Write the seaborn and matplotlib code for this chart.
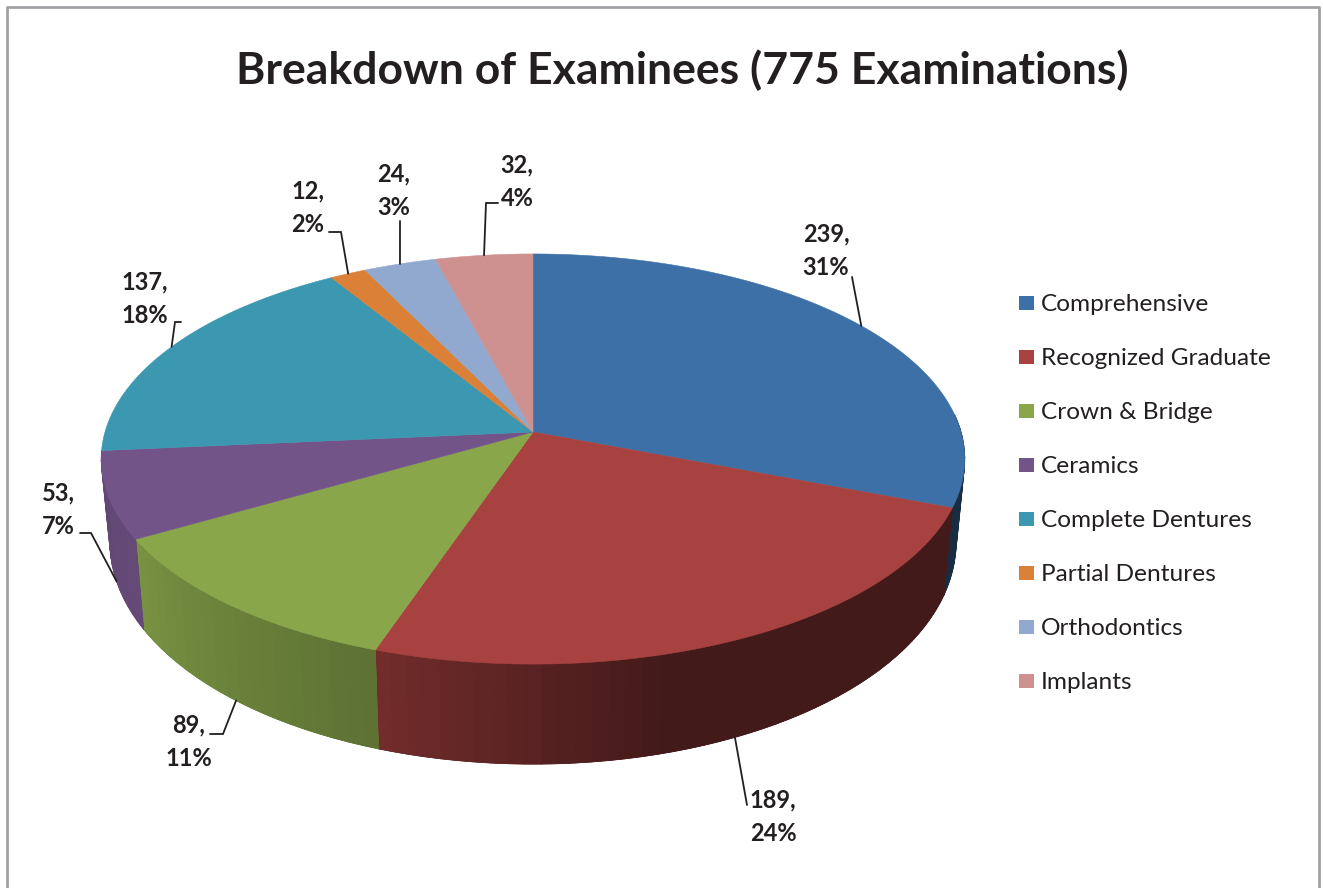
'''
3D style pie of examinees per examination type.
'''
import numpy as np
import seaborn as sns
import matplotlib.pyplot as plt
from matplotlib.collections import PolyCollection
from matplotlib.patches import Polygon

categories = ["Comprehensive", "Recognized Graduate", "Crown & Bridge", "Ceramics",
              "Complete Dentures", "Partial Dentures", "Orthodontics", "Implants"]
examinees = [239, 189, 89, 53, 137, 12, 24, 32]
slice_colors = ["#3c70a6", "#a84240", "#89a64b", "#735489",
                "#3c97b0", "#da8137", "#91a8cf", "#cf9090"]
title = "Breakdown of Examinees (775 Examinations)"

# layout, in pixels of the 1323x888 picture
CX, CY = 533, 432
RX, RY, TILT = 428, 201.5, 0.1318
TEXT_COLOR = "#231f20"
label_centers = [(826, 251), (773, 817), (189, 742), (58, 510),
                 (145, 299), (308, 208), (394, 191), (517, 182)]
leader_bends = [[(852, 277)], [(747, 805)], [(223, 734), (210, 734)],
                [(91, 533), (80, 533)], [(175, 322), (181, 322)],
                [(341, 232), (329, 232)], [(400, 221)], [(486, 203), (498, 203)]]


def top_point(theta):
    """angle clockwise from 12 o'clock (radians) to a point on the top rim"""
    u, v = np.sin(theta), np.cos(theta)
    w = 1 + TILT * v
    return CX + RX * u / w, CY - RY * v / w


def bottom_point(theta):
    """same angle on the lower rim of the wall"""
    x, y = top_point(theta)
    return CX + (x - CX) * 0.98, y + 80 - 20 * np.cos(theta)


def wall_shade(theta_deg):
    return np.interp(theta_deg, [0, 165, 199, 240, 270, 360], [0.40, 0.40, 0.68, 0.88, 0.84, 0.84])


def scale_color(color, factor):
    return tuple(c * factor for c in color)


sns.set_theme(style="white")
plt.rcParams["font.family"] = ["Lato", "DejaVu Sans"]
palette = sns.color_palette(slice_colors)

fig, ax = plt.subplots(figsize=(13.23, 8.88), dpi=100)
fig.subplots_adjust(0, 0, 1, 1)
ax.set_xlim(0, 1323)
ax.set_ylim(888, 0)
ax.axis("off")

# chart frame, open at the bottom
ax.plot([7, 7, 1319, 1319], [888, 7, 7, 888], color="#a2a2a6", lw=2.0, zorder=1)

total = sum(examinees)
edges = np.concatenate([[0], np.cumsum(examinees)]) / total * 360

# side wall, only slices on the front half show one:
# a solid base per slice, then shaded strips on it
for i, color in enumerate(palette):
    if edges[i] > 260 or edges[i + 1] < 90:
        continue
    lo, hi = max(edges[i], 85), edges[i + 1]
    thetas = np.radians(np.linspace(lo, hi, 100))
    outline = [top_point(t) for t in thetas] + [bottom_point(t) for t in thetas[::-1]]
    base = scale_color(color, wall_shade((lo + hi) / 2))
    ax.add_patch(Polygon(outline, closed=True, facecolor=base, edgecolor=base, lw=0.4, zorder=2))

    steps = np.append(np.arange(lo, hi, 2.0), hi)
    quads, shades = [], []
    for a, b in zip(steps[:-1], steps[1:]):
        quads.append([top_point(np.radians(a)), top_point(np.radians(b)),
                      bottom_point(np.radians(b)), bottom_point(np.radians(a))])
        shades.append(scale_color(color, wall_shade((a + b) / 2)))
    ax.add_collection(PolyCollection(quads, facecolors=shades, edgecolors=shades,
                                     linewidths=0.6, zorder=2))

# top face
for i, color in enumerate(palette):
    thetas = np.radians(np.linspace(edges[i], edges[i + 1], 120))
    rim = [top_point(t) for t in thetas]
    ax.add_patch(Polygon([(CX, CY)] + rim, closed=True, facecolor=color, edgecolor=color,
                         lw=0.4, zorder=3))

# data labels and their leader lines
for i, value in enumerate(examinees):
    mid = np.radians((edges[i] + edges[i + 1]) / 2)
    start = bottom_point(mid) if np.cos(mid) < -0.2 else top_point(mid)
    path = [start] + leader_bends[i]
    ax.plot([p[0] for p in path], [p[1] for p in path], color=TEXT_COLOR, lw=1.3, zorder=4,
            solid_joinstyle="miter")
    ax.text(label_centers[i][0], label_centers[i][1], f"{value},\n{round(value / total * 100)}%",
            ha="center", va="center", fontsize=17, fontweight="bold", color=TEXT_COLOR,
            linespacing=1.55, zorder=5)

ax.text(682, 70, title, ha="center", va="center", fontsize=32, fontweight="bold", color=TEXT_COLOR)

# legend
legend_y = 303 + 54 * np.arange(len(categories))
sns.scatterplot(x=[1026.5] * len(categories), y=legend_y, hue=categories, palette=palette,
                hue_order=categories, marker="s", s=115, linewidth=0, legend=False, ax=ax, zorder=5)
for name, y in zip(categories, legend_y):
    ax.text(1041, y + 1, name, ha="left", va="center", fontsize=17.6, color=TEXT_COLOR)
ax.set_xlim(0, 1323)
ax.set_ylim(888, 0)

fig.savefig("out.png", dpi=100)
